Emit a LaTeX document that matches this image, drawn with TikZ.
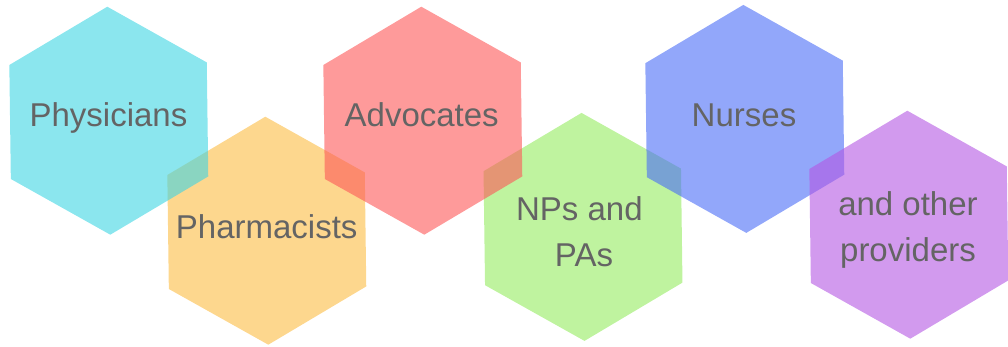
\documentclass[tikz,border=0pt]{standalone}
\usepackage{fontspec}
\setmainfont{Liberation Sans}
\definecolor{cyanH}{RGB}{62,213,227}
\definecolor{orangeH}{RGB}{252,188,67}
\definecolor{redH}{RGB}{253,87,87}
\definecolor{greenH}{RGB}{148,235,95}
\definecolor{blueH}{RGB}{73,108,247}
\definecolor{purpleH}{RGB}{180,87,227}
\definecolor{txtgray}{RGB}{100,100,100}
\newcommand\hexfill[3]{\fill[hexfill,#3,shift={(#1,#2)}] (269.25:114) -- (329.25:114) -- (29.25:114) -- (89.25:114) -- (149.25:114) -- (209.25:114) -- cycle;}
\begin{document}
\begin{tikzpicture}[x=1pt,y=-1pt,
  hexfill/.style={fill opacity=0.6},
  label/.style={anchor=base,text=txtgray,inner sep=0pt,align=center,
    font=\fontsize{33}{46.3}\selectfont}]
\useasboundingbox (0,0) rectangle (1008,346);
\hexfill{266.8}{230.7}{fill=orangeH}
\hexfill{108.8}{120.7}{fill=cyanH}
\hexfill{583}{226.9}{fill=greenH}
\hexfill{422.8}{120.7}{fill=redH}
\hexfill{744.8}{118.9}{fill=blueH}
\hexfill{908.8}{224.7}{fill=purpleH}
\node[label] (phys) at (108.5,126) {Physicians};
\node[label] (pharm) at (266.7,238.3) {Pharmacists};
\node[label] (adv) at (421.7,126) {Advocates};
\node[label] (nps) at (584,266.7) {NPs and\hphantom{ }\\PAs};
\node[label] (nurs) at (744,126) {Nurses};
\node[label] (other) at (908,261.7) {and other\\providers};
\end{tikzpicture}
\end{document}
